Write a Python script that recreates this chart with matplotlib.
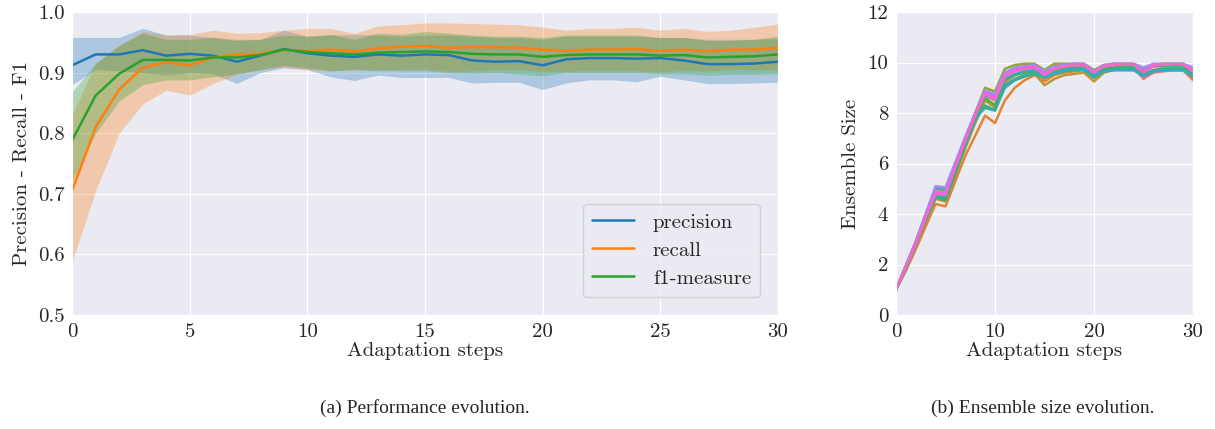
#! /usr/bin/env python

"""
Performance and ensemble size evolution over adaptation steps.
"""

import numpy as np
import seaborn as sns
from matplotlib import pyplot as plt

steps = list(range(31))

precision = [0.912, 0.930, 0.930, 0.937, 0.928, 0.931, 0.928, 0.918, 0.928, 0.939, 0.932,
             0.928, 0.926, 0.930, 0.928, 0.930, 0.929, 0.920, 0.918, 0.919, 0.912,
             0.922, 0.924, 0.924, 0.923, 0.924, 0.920, 0.914, 0.914, 0.915, 0.918]
precision_lo = [0.880, 0.905, 0.903, 0.900, 0.896, 0.900, 0.898, 0.882, 0.900, 0.908, 0.905,
                0.893, 0.887, 0.896, 0.892, 0.892, 0.892, 0.883, 0.884, 0.884, 0.872,
                0.883, 0.888, 0.888, 0.885, 0.894, 0.888, 0.882, 0.882, 0.883, 0.884]
precision_hi = [0.958, 0.958, 0.958, 0.973, 0.962, 0.962, 0.958, 0.955, 0.955, 0.970, 0.960,
                0.962, 0.963, 0.962, 0.960, 0.962, 0.962, 0.960, 0.958, 0.958, 0.955,
                0.960, 0.960, 0.960, 0.960, 0.958, 0.958, 0.955, 0.955, 0.955, 0.956]

recall = [0.705, 0.810, 0.872, 0.908, 0.917, 0.912, 0.925, 0.930, 0.931, 0.937, 0.936,
          0.938, 0.935, 0.940, 0.943, 0.944, 0.941, 0.942, 0.942, 0.941, 0.938,
          0.936, 0.938, 0.938, 0.939, 0.936, 0.938, 0.935, 0.938, 0.938, 0.941]
recall_lo = [0.588, 0.705, 0.800, 0.848, 0.871, 0.863, 0.882, 0.897, 0.905, 0.909, 0.905,
             0.903, 0.905, 0.905, 0.906, 0.906, 0.902, 0.903, 0.905, 0.905, 0.902,
             0.902, 0.904, 0.904, 0.903, 0.901, 0.904, 0.903, 0.905, 0.905, 0.905]
recall_hi = [0.830, 0.915, 0.945, 0.968, 0.962, 0.963, 0.970, 0.965, 0.966, 0.970, 0.973,
             0.973, 0.965, 0.977, 0.979, 0.982, 0.982, 0.981, 0.980, 0.979, 0.975,
             0.970, 0.973, 0.973, 0.975, 0.970, 0.973, 0.968, 0.970, 0.975, 0.980]

f1 = [0.788, 0.862, 0.898, 0.921, 0.921, 0.920, 0.925, 0.925, 0.929, 0.938, 0.934,
      0.932, 0.930, 0.933, 0.934, 0.935, 0.934, 0.931, 0.930, 0.930, 0.926,
      0.929, 0.930, 0.930, 0.930, 0.928, 0.929, 0.925, 0.926, 0.927, 0.930]
f1_lo = [0.720, 0.800, 0.853, 0.880, 0.888, 0.888, 0.893, 0.898, 0.905, 0.912, 0.908,
         0.903, 0.905, 0.903, 0.903, 0.903, 0.900, 0.899, 0.900, 0.898, 0.895,
         0.900, 0.900, 0.900, 0.900, 0.898, 0.898, 0.896, 0.897, 0.897, 0.898]
f1_hi = [0.868, 0.915, 0.945, 0.965, 0.955, 0.955, 0.958, 0.953, 0.955, 0.962, 0.960,
         0.963, 0.955, 0.965, 0.963, 0.968, 0.965, 0.962, 0.960, 0.960, 0.958,
         0.962, 0.962, 0.962, 0.962, 0.958, 0.958, 0.953, 0.953, 0.955, 0.960]

# ensemble size of each run
run_0 = [1.0, 1.85, 2.75, 3.8, 4.7, 4.6, 5.7, 6.7, 7.7, 8.6, 8.3, 9.2, 9.5, 9.65, 9.7, 9.35,
         9.6, 9.7, 9.75, 9.8, 9.45, 9.7, 9.75, 9.8, 9.8, 9.35, 9.6, 9.65, 9.7, 9.7, 9.3]
run_1 = [1.0, 1.75, 2.6, 3.5, 4.4, 4.3, 5.3, 6.3, 7.1, 7.9, 7.6, 8.5, 9.0, 9.3, 9.5, 9.25,
         9.5, 9.6, 9.65, 9.7, 9.4, 9.7, 9.75, 9.75, 9.75, 9.45, 9.65, 9.7, 9.7, 9.7, 9.35]
run_2 = [1.0, 1.8, 2.7, 3.7, 4.6, 4.5, 5.5, 6.6, 7.6, 8.5, 8.2, 9.1, 9.3, 9.45, 9.55, 9.1,
         9.35, 9.5, 9.55, 9.6, 9.25, 9.6, 9.7, 9.75, 9.75, 9.5, 9.7, 9.75, 9.75, 9.75, 9.5]
run_3 = [1.0, 1.95, 2.9, 4.0, 5.0, 4.9, 6.0, 7.0, 8.0, 9.0, 8.85, 9.75, 9.9, 9.95, 9.95, 9.7,
         9.95, 9.95, 9.95, 9.95, 9.7, 9.9, 9.95, 9.95, 9.95, 9.75, 9.9, 9.95, 9.95, 9.95, 9.7]
run_4 = [1.0, 1.9, 2.8, 3.8, 4.7, 4.6, 5.7, 6.8, 7.8, 8.6, 8.3, 9.3, 9.5, 9.6, 9.65, 9.45,
         9.65, 9.75, 9.8, 9.8, 9.5, 9.75, 9.8, 9.85, 9.85, 9.7, 9.85, 9.85, 9.85, 9.85, 9.6]
run_5 = [1.0, 1.85, 2.8, 3.75, 4.65, 4.55, 5.6, 6.7, 7.7, 8.3, 8.1, 9.1, 9.35, 9.5, 9.6, 9.4,
         9.6, 9.7, 9.75, 9.75, 9.45, 9.7, 9.75, 9.75, 9.75, 9.55, 9.7, 9.75, 9.75, 9.75, 9.5]
run_6 = [1.0, 1.85, 2.75, 3.8, 4.75, 4.65, 5.75, 6.8, 7.8, 8.2, 8.1, 9.0, 9.3, 9.45, 9.55, 9.4,
         9.55, 9.65, 9.7, 9.7, 9.4, 9.65, 9.7, 9.7, 9.7, 9.5, 9.65, 9.7, 9.7, 9.7, 9.45]
run_7 = [1.0, 1.9, 2.85, 3.9, 4.85, 4.75, 5.85, 6.9, 7.9, 8.7, 8.5, 9.35, 9.55, 9.65, 9.7, 9.45,
         9.6, 9.7, 9.75, 9.75, 9.5, 9.65, 9.7, 9.7, 9.7, 9.45, 9.65, 9.7, 9.7, 9.7, 9.45]
run_8 = [1.0, 1.95, 2.9, 3.95, 5.05, 5.0, 6.0, 7.0, 7.95, 8.85, 8.7, 9.55, 9.75, 9.8, 9.85, 9.6,
         9.8, 9.85, 9.9, 9.9, 9.6, 9.85, 9.9, 9.9, 9.9, 9.65, 9.85, 9.9, 9.9, 9.9, 9.65]
run_9 = [1.0, 1.95, 2.9, 4.0, 5.1, 5.05, 6.05, 7.05, 8.0, 8.9, 8.75, 9.6, 9.8, 9.85, 9.9, 9.65,
         9.85, 9.9, 9.95, 9.95, 9.65, 9.9, 9.95, 9.95, 9.95, 9.8, 9.95, 9.95, 9.95, 9.95, 9.8]
run_10 = [1.0, 1.9, 2.85, 3.9, 4.9, 4.8, 5.9, 6.95, 7.95, 8.8, 8.6, 9.5, 9.7, 9.8, 9.85, 9.55,
          9.75, 9.85, 9.9, 9.9, 9.6, 9.85, 9.92, 9.92, 9.92, 9.65, 9.9, 9.92, 9.92, 9.92, 9.7]
run_11 = [1.0, 1.9, 2.8, 3.85, 4.8, 4.75, 5.85, 6.9, 7.9, 8.75, 8.5, 9.45, 9.65, 9.75, 9.8, 9.5,
          9.75, 9.85, 9.9, 9.9, 9.6, 9.85, 9.9, 9.92, 9.92, 9.6, 9.88, 9.92, 9.92, 9.92, 9.65]
runs = [run_0, run_1, run_2, run_3, run_4, run_5, run_6, run_7, run_8, run_9, run_10, run_11]

sns.set_style('darkgrid')
plt.rcParams['font.family'] = 'cmr10'
plt.rcParams['mathtext.fontset'] = 'cm'
plt.rcParams['axes.unicode_minus'] = False
plt.rcParams['font.size'] = 15

fig = plt.figure(figsize=(12.15, 4.29), dpi=100)
ax1 = fig.add_axes([0.0593, 0.2657, 0.5810, 0.7063])
ax2 = fig.add_axes([0.7374, 0.2657, 0.2445, 0.7063])

# performance curves with their bands
cols = sns.color_palette('tab10')
series = [('precision', precision, precision_lo, precision_hi),
          ('recall', recall, recall_lo, recall_hi),
          ('f1-measure', f1, f1_lo, f1_hi)]
for i, (name, mean, lo, hi) in enumerate(series):
    ax1.fill_between(steps, lo, hi, color=cols[i], alpha=0.3, linewidth=0)
    ax1.plot(steps, mean, color=cols[i], linewidth=1.8, label=name)

ax1.set_xlim(0, 30)
ax1.set_ylim(0.5, 1.0)
ax1.set_xticks(np.arange(0, 31, 5))
ax1.set_yticks(np.arange(0.5, 1.01, 0.1))
ax1.set_yticklabels(['%.1f' % v for v in np.arange(0.5, 1.01, 0.1)])
ax1.set_xlabel('Adaptation steps', labelpad=1)
ax1.set_ylabel('Precision - Recall - F1', labelpad=5)
ax1.tick_params(labelsize=15, pad=2)
ax1.legend(loc='lower right', fontsize=15, handlelength=2.0, borderpad=0.45,
           labelspacing=0.45, handletextpad=0.9, bbox_to_anchor=(0.99, 0.025))

# ensemble size per run
pal = sns.color_palette('husl', len(runs))
for k, run in enumerate(runs):
    ax2.plot(steps, run, color=pal[k], linewidth=1.8)

ax2.set_xlim(0, 30)
ax2.set_ylim(0, 12)
ax2.set_xticks([0, 10, 20, 30])
ax2.set_yticks(np.arange(0, 13, 2))
ax2.set_xlabel('Adaptation steps', labelpad=1)
ax2.set_ylabel('Ensemble Size', labelpad=5)
ax2.tick_params(labelsize=15, pad=2)

fig.text(0.35, 0.049, '(a) Performance evolution.', ha='center', va='center',
         fontsize=14, family='Liberation Serif')
fig.text(0.858, 0.049, '(b) Ensemble size evolution.', ha='center', va='center',
         fontsize=14, family='Liberation Serif')

plt.savefig('out.png', dpi=100)
